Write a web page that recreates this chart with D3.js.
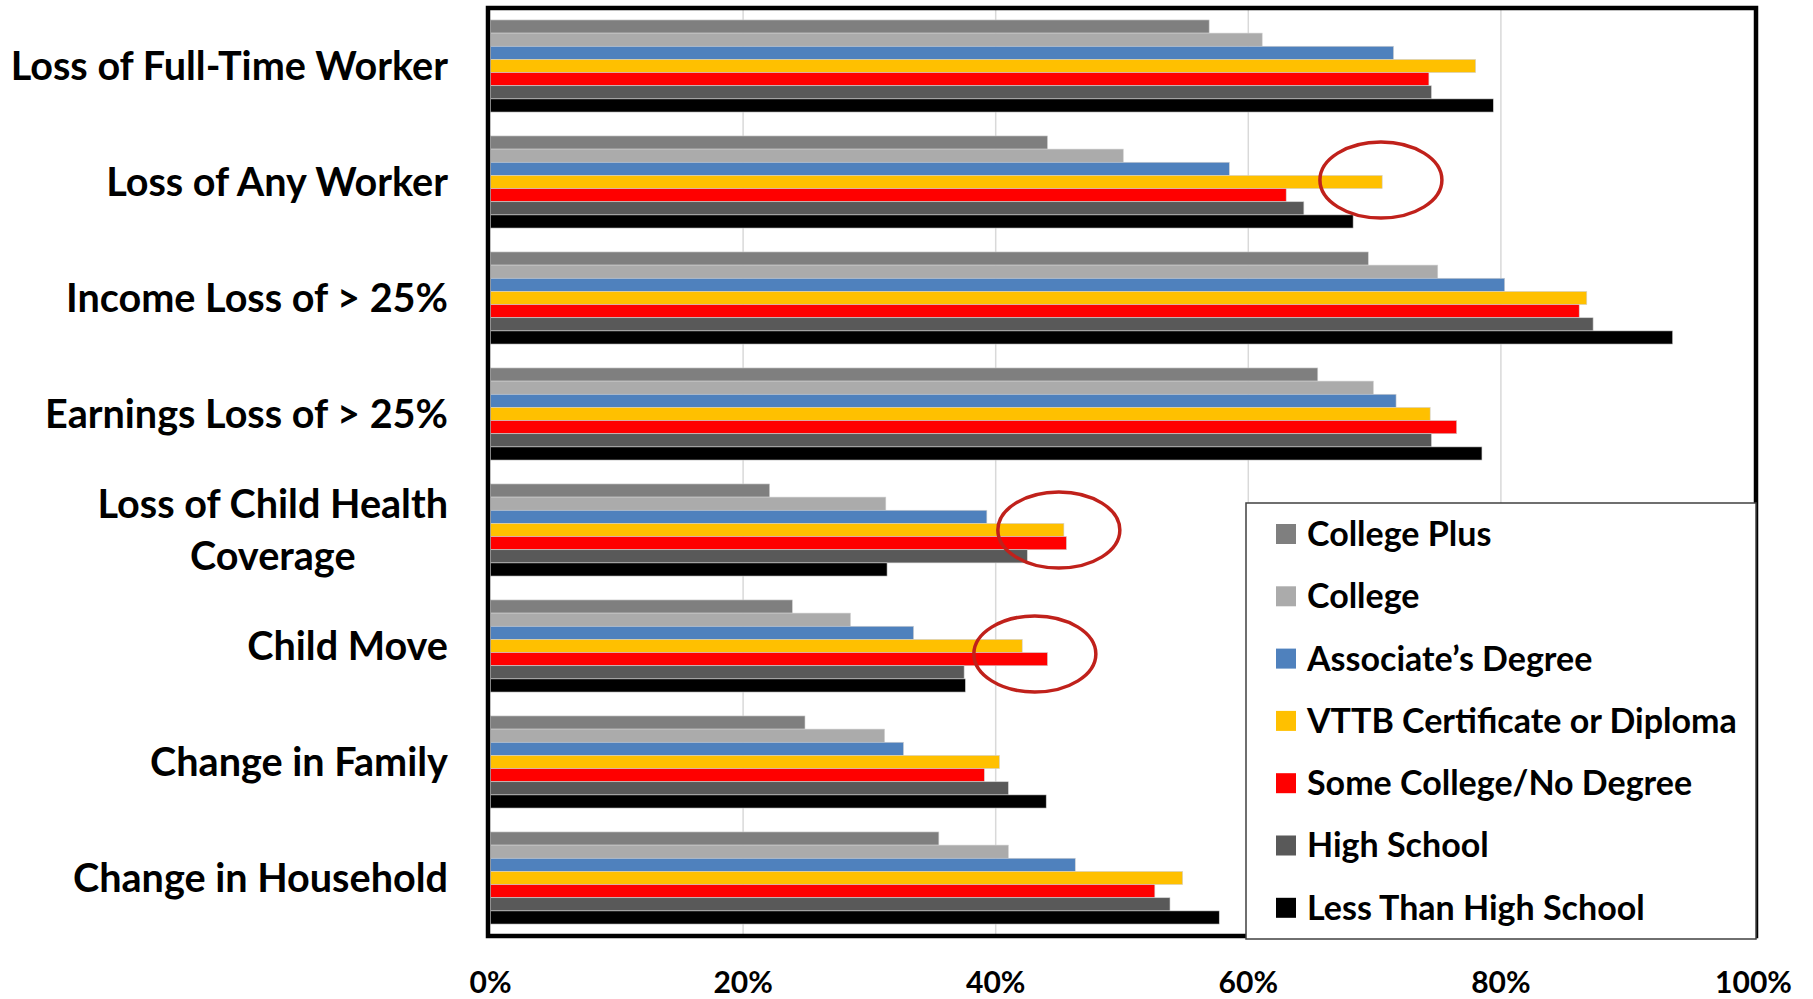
<!DOCTYPE html>
<html>
<head>
<meta charset="utf-8">
<script src="https://cdn.jsdelivr.net/npm/d3@7"></script>
<style>
  body { margin: 0; background: #fff; }
  text { font-family: Lato, "Open Sans", "Noto Sans", sans-serif; font-weight: 700; fill: #000; }
</style>
</head>
<body>
<svg id="chart" width="1813" height="999"></svg>
<script>
// categories, top to bottom
const categories = [
  "Loss of Full-Time Worker",
  "Loss of Any Worker",
  "Income Loss of > 25%",
  "Earnings Loss of > 25%",
  "Loss of Child Health Coverage",
  "Child Move",
  "Change in Family",
  "Change in Household"
];

const seriesNames = [
  "College Plus",
  "College",
  "Associate\u2019s Degree",
  "VTTB Certificate or Diploma",
  "Some College/No Degree",
  "High School",
  "Less Than High School"
];

const seriesColors = ["#7f7f7f", "#ababab", "#4f81bd", "#ffc000", "#ff0000", "#595959", "#000000"];

// percent values, one per category
const collegePlus   = [56.9, 44.1, 69.5, 65.5, 22.1, 23.9, 24.9, 35.5];
const college       = [61.1, 50.1, 75.0, 69.9, 31.3, 28.5, 31.2, 41.0];
const associates    = [71.5, 58.5, 80.3, 71.7, 39.3, 33.5, 32.7, 46.3];
const vttb          = [78.0, 70.6, 86.8, 74.4, 45.4, 42.1, 40.3, 54.8];
const someCollege   = [74.3, 63.0, 86.2, 76.5, 45.6, 44.1, 39.1, 52.6];
const highSchool    = [74.5, 64.4, 87.3, 74.5, 42.5, 37.5, 41.0, 53.8];
const lessThanHS    = [79.4, 68.3, 93.6, 78.5, 31.4, 37.6, 44.0, 57.7];

const tickValues = [0, 20, 40, 60, 80, 100];

// red circles drawn over the chart
const highlights = [
  { category: "Loss of Any Worker", value: 70.5, dy: -2 },
  { category: "Loss of Child Health Coverage", value: 45.0, dy: 0 },
  { category: "Child Move", value: 43.1, dy: 8 }
];

const allSeries = [collegePlus, college, associates, vttb, someCollege, highSchool, lessThanHS];

const svg = d3.select("#chart");

const plot = { left: 488, right: 1756, top: 8, bottom: 936 };

const x = d3.scaleLinear().domain([0, 100]).range([490.5, 1753.5]);

const y0 = d3.scaleBand()
  .domain(categories)
  .range([plot.top, plot.bottom])
  .padding(0);

const bw = y0.bandwidth();
const y1 = d3.scaleBand()
  .domain(seriesNames)
  .range([bw * 0.103, bw * 0.897])
  .padding(0);

// gridlines
svg.append("g")
  .selectAll("line")
  .data(tickValues.filter(t => t > 0 && t < 100))
  .enter().append("line")
  .attr("x1", d => x(d))
  .attr("x2", d => x(d))
  .attr("y1", plot.top)
  .attr("y2", plot.bottom)
  .attr("stroke", "#d9d9d9")
  .attr("stroke-width", 1.5);

// bars
const rows = [];
categories.forEach((c, i) => {
  seriesNames.forEach((s, j) => {
    rows.push({ category: c, series: s, value: allSeries[j][i], color: seriesColors[j] });
  });
});

svg.append("g")
  .selectAll("rect")
  .data(rows)
  .enter().append("rect")
  .attr("x", x(0))
  .attr("y", d => y0(d.category) + y1(d.series))
  .attr("width", d => x(d.value) - x(0))
  .attr("height", y1.bandwidth())
  .attr("fill", d => d.color)
  .attr("stroke", "#d0d0d0")
  .attr("stroke-width", 0.6);

// frame
svg.append("rect")
  .attr("x", plot.left)
  .attr("y", plot.top)
  .attr("width", plot.right - plot.left)
  .attr("height", plot.bottom - plot.top)
  .attr("fill", "none")
  .attr("stroke", "#000")
  .attr("stroke-width", 4.5);

// category labels, wrapped when too wide
const labelRight = 448;
const labelSize = 39.6;
const maxLabelWidth = 470;
const labelG = svg.append("g");
categories.forEach(c => {
  const cy = y0(c) + bw / 2;
  const probe = labelG.append("text").style("font-size", labelSize + "px").text(c);
  const w = probe.node().getComputedTextLength();
  probe.remove();
  if (w <= maxLabelWidth) {
    labelG.append("text")
      .attr("x", labelRight)
      .attr("y", cy)
      .attr("dy", "0.35em")
      .attr("text-anchor", "end")
      .style("font-size", labelSize + "px")
      .text(c);
  } else {
    const words = c.split(" ");
    const lines = [words.slice(0, -1).join(" "), words[words.length - 1]];
    const t = labelG.append("text").style("font-size", labelSize + "px").text(lines[0]);
    const w0 = t.node().getComputedTextLength();
    t.remove();
    const cx = labelRight - w0 / 2;
    lines.forEach((ln, k) => {
      labelG.append("text")
        .attr("x", cx)
        .attr("y", cy + (k - 0.5) * 52)
        .attr("dy", "0.35em")
        .attr("text-anchor", "middle")
        .style("font-size", labelSize + "px")
        .text(ln);
    });
  }
});

// x tick labels
svg.append("g")
  .selectAll("text")
  .data(tickValues)
  .enter().append("text")
  .attr("x", d => x(d))
  .attr("y", 982)
  .attr("dy", "0.35em")
  .attr("text-anchor", "middle")
  .style("font-size", "30px")
  .text(d => d + "%");

// highlight ellipses
svg.append("g")
  .selectAll("ellipse")
  .data(highlights)
  .enter().append("ellipse")
  .attr("cx", d => x(d.value))
  .attr("cy", d => y0(d.category) + bw / 2 + d.dy)
  .attr("rx", 61)
  .attr("ry", 38)
  .attr("fill", "none")
  .attr("stroke", "#c0211b")
  .attr("stroke-width", 3.5);

// legend
const legend = svg.append("g").attr("transform", "translate(1246,503)");
legend.append("rect")
  .attr("width", 510)
  .attr("height", 436)
  .attr("fill", "#fff")
  .attr("stroke", "#404040")
  .attr("stroke-width", 1.5);

const item = legend.selectAll(".item")
  .data(seriesNames)
  .enter().append("g")
  .attr("class", "item")
  .attr("transform", (d, i) => `translate(30,${31 + i * 62.3})`);

item.append("rect")
  .attr("x", 0)
  .attr("y", -10)
  .attr("width", 20)
  .attr("height", 20)
  .attr("fill", (d, i) => seriesColors[i]);

item.append("text")
  .attr("x", 31)
  .attr("y", 0)
  .attr("dy", "0.35em")
  .style("font-size", "34px")
  .text(d => d);
</script>
</body>
</html>
